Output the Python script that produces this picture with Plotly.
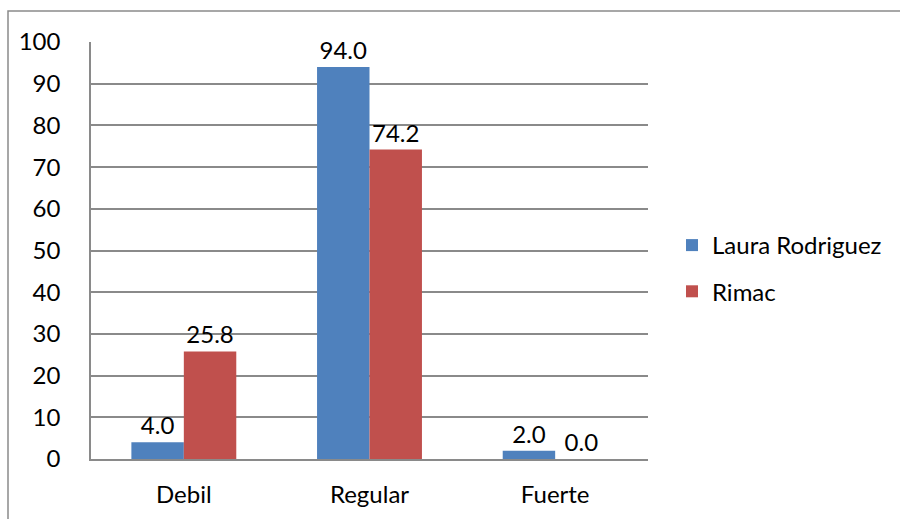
import plotly.graph_objects as go

categories = ["Debil", "Regular", "Fuerte"]
laura_rodriguez = [4.0, 94.0, 2.0]
rimac = [25.8, 74.2, 0.0]
y_ticks = list(range(0, 101, 10))

W, H = 900, 519
L, R, T, B = 91, 252, 42, 60
pw, ph = W - L - R, H - T - B

def px_x(p):
    return (p - L) / pw

def px_y(p):
    return (H - B - p) / ph

FONT = "Lato"
FS = 24
grid = "#8a8a8a"

fig = go.Figure()
fig.add_trace(go.Bar(
    name="Laura Rodriguez", x=categories, y=laura_rodriguez,
    marker=dict(color="#4F81BD", line=dict(color="#4F81BD", width=0)),
    text=[f"{v:.1f}" for v in laura_rodriguez], textposition="outside",
    textfont=dict(family=FONT, size=FS, color="black"), cliponaxis=False,
    legendgroup="a",
))
fig.add_trace(go.Bar(
    name="Rimac", x=categories, y=rimac,
    marker=dict(color="#C0504D", line=dict(color="#C0504D", width=0)),
    text=[f"{v:.1f}" for v in rimac], textposition="outside",
    textfont=dict(family=FONT, size=FS, color="black"), cliponaxis=False,
    legendgroup="b",
))

fig.update_layout(
    width=W, height=H,
    margin=dict(l=L, r=R, t=T, b=B, pad=0, autoexpand=False),
    paper_bgcolor="white", plot_bgcolor="white",
    font=dict(family=FONT, size=FS, color="black"),
    barmode="group", bargap=0.435, bargroupgap=0,
    showlegend=True,
    legend=dict(x=px_x(672), y=px_y(223), xanchor="left", yanchor="top",
                font=dict(family=FONT, size=FS, color="black"),
                tracegroupgap=12, bgcolor="rgba(0,0,0,0)"),
    xaxis=dict(showgrid=False, showline=True, linecolor=grid, linewidth=1.5,
               ticks="", ticklabelstandoff=13, tickfont=dict(size=FS),
               automargin=False),
    yaxis=dict(range=[0, 100], tickvals=y_ticks, showgrid=True, gridcolor=grid,
               gridwidth=1.5, showline=True, linecolor=grid, linewidth=1.5,
               zeroline=False, ticks="", ticklabelstandoff=24,
               tickfont=dict(size=FS), automargin=False),
)

# chart area border
fig.add_shape(type="rect", xref="paper", yref="paper",
              x0=px_x(8), x1=px_x(910), y0=px_y(530), y1=px_y(11),
              line=dict(color="#8a8a8a", width=1.5), fillcolor="rgba(0,0,0,0)",
              layer="below")

fig.write_html("out.html")
